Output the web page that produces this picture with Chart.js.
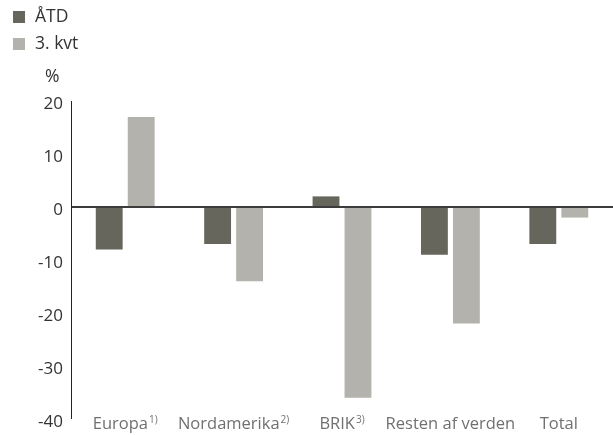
<!DOCTYPE html>
<html>
<head>
<meta charset="utf-8">
<script src="https://cdn.jsdelivr.net/npm/chart.js@4/dist/chart.umd.min.js"></script>
<style>
  html, body { margin:0; padding:0; background:#fff; overflow:hidden; }
  #wrap { width:613px; height:435px; position:relative; }
  canvas { display:block; }
</style>
</head>
<body>
<div id="wrap"><canvas id="chart"></canvas></div>
<script>
// data
const kategorier = ['Europa', 'Nordamerika', 'BRIK', 'Resten af verden', 'Total'];
const fodnoter = ['1)', '2)', '3)', '', ''];
const aatd = [-8, -7, 2, -9, -7];
const kvt3 = [17, -14, -36, -22, -2];
const yTicks = [20, 10, 0, -10, -20, -30, -40];

const FONT = '"Open Sans", "DejaVu Sans", sans-serif';

// legend, "%" and the category names (with raised footnote marks)
const tegnPlugin = {
  id: 'tegn',
  afterDraw(chart) {
    const ctx = chart.ctx;
    ctx.save();
    chart.data.datasets.forEach((ds, i) => {
      const y = 11 + i * 27;
      ctx.fillStyle = ds.backgroundColor;
      ctx.fillRect(13, y, 12, 12);
      ctx.fillStyle = '#333';
      ctx.font = '17.5px ' + FONT;
      ctx.textBaseline = 'middle';
      ctx.textAlign = 'left';
      ctx.fillText(ds.label, 35, y + 6);
    });
    ctx.fillText('%', 45, 77);

    const xs = chart.scales.x;
    ctx.textBaseline = 'alphabetic';
    ctx.fillStyle = '#707070';
    kategorier.forEach((navn, i) => {
      ctx.font = '16.5px ' + FONT;
      const w1 = ctx.measureText(navn).width;
      ctx.font = '10px ' + FONT;
      const w2 = fodnoter[i] ? ctx.measureText(fodnoter[i]).width + 1 : 0;
      const x0 = xs.getPixelForTick(i) - (w1 + w2) / 2;
      ctx.font = '16.5px ' + FONT;
      ctx.fillText(navn, x0, 429);
      if (fodnoter[i]) {
        ctx.font = '10px ' + FONT;
        ctx.fillText(fodnoter[i], x0 + w1 + 1, 423);
      }
    });
    ctx.restore();
  }
};

new Chart(document.getElementById('chart'), {
  type: 'bar',
  data: {
    labels: kategorier,
    datasets: [
      { label: 'ÅTD', data: aatd, backgroundColor: '#66665c', categoryPercentage: 0.59, barPercentage: 0.84 },
      { label: '3. kvt', data: kvt3, backgroundColor: '#b3b2ac', categoryPercentage: 0.59, barPercentage: 0.84 }
    ]
  },
  options: {
    responsive: true,
    maintainAspectRatio: false,
    animation: false,
    layout: { padding: { top: 101, right: 0, bottom: 16, left: 0 } },
    plugins: { legend: { display: false }, tooltip: { enabled: false } },
    scales: {
      x: { display: false },
      y: {
        min: -40, max: 20,
        z: 1,
        afterBuildTicks(s) { s.ticks = yTicks.map(v => ({ value: v })); },
        afterFit(s) { s.width = 71; },
        border: { display: true, color: '#222', width: 1 },
        grid: {
          drawTicks: false,
          color: c => c.tick && c.tick.value === 0 ? '#3c3c3c' : 'rgba(0,0,0,0)',
          lineWidth: c => c.tick && c.tick.value === 0 ? 2 : 0
        },
        // empty first line pushes each number a few px below its tick, as in the original
        ticks: {
          color: '#333', font: { family: FONT, size: 17, lineHeight: '6px' }, padding: 8,
          callback: v => ['', String(v)]
        }
      }
    }
  },
  plugins: [tegnPlugin]
});
</script>
</body>
</html>
